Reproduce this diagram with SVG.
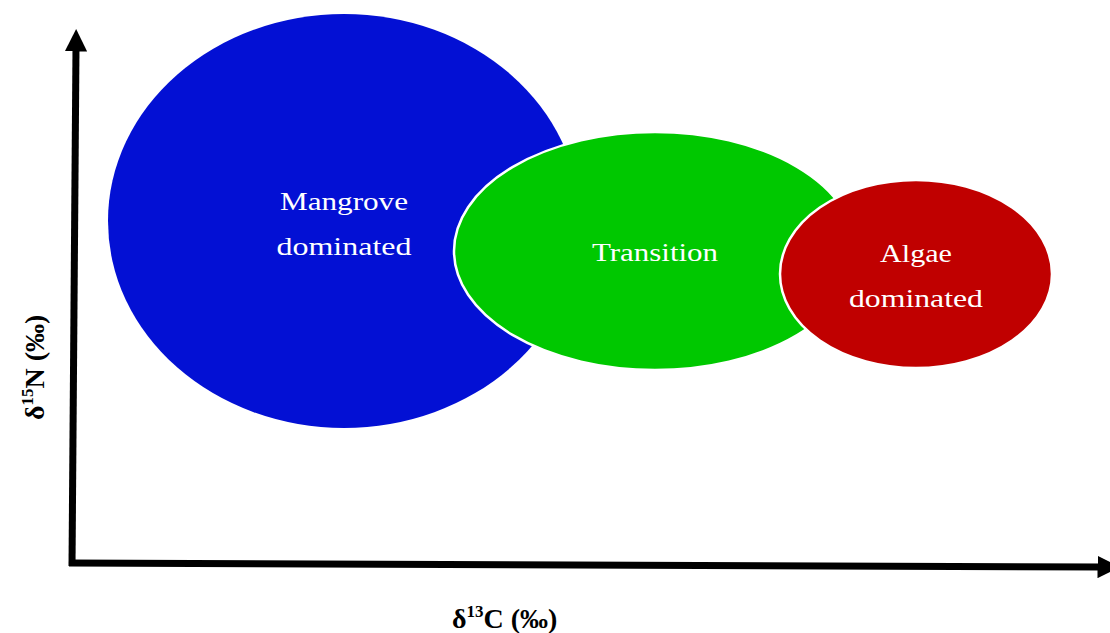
<svg xmlns="http://www.w3.org/2000/svg" width="1110" height="633" viewBox="0 0 1110 633">
<style>
.lbl{font-family:"Liberation Serif","DejaVu Serif",serif;font-size:26px;fill:#ffffff;text-anchor:middle}
.ax{font-family:"Liberation Serif","DejaVu Serif",serif;font-size:28px;font-weight:bold;fill:#000}
.sup{font-size:17px}
</style>
<defs>
<marker id="ah" viewBox="0 0 10 10" refX="2" refY="5" markerWidth="3.2" markerHeight="3.2" orient="auto" markerUnits="strokeWidth">
<path d="M0,0 L10,5 L0,10 Z" fill="#000"/>
</marker>
</defs>
<rect width="1110" height="633" fill="#fff"/>
<g id="mangrove">
<ellipse cx="344" cy="221" rx="236" ry="207" fill="#0310D4"/>
<text class="lbl" x="344" y="210" textLength="128" lengthAdjust="spacingAndGlyphs">Mangrove</text>
<text class="lbl" x="344" y="255" textLength="135" lengthAdjust="spacingAndGlyphs">dominated</text>
</g>
<g id="transition">
<ellipse cx="655" cy="251" rx="201" ry="119" fill="#00C800" stroke="#fff" stroke-width="2.5"/>
<text class="lbl" x="655" y="261" textLength="126" lengthAdjust="spacingAndGlyphs">Transition</text>
</g>
<g id="algae">
<ellipse cx="916" cy="274" rx="136" ry="94" fill="#C00000" stroke="#fff" stroke-width="2.5"/>
<text class="lbl" x="916" y="262" textLength="72" lengthAdjust="spacingAndGlyphs">Algae</text>
<text class="lbl" x="916" y="307" textLength="134" lengthAdjust="spacingAndGlyphs">dominated</text>
</g>
<g id="connectors" stroke="#000" stroke-width="7" fill="none">
<line x1="72" y1="566" x2="76" y2="47" marker-end="url(#ah)"/>
<line x1="69" y1="563" x2="1102" y2="567" marker-end="url(#ah)"/>
</g>
<g id="axis-labels">
<text class="ax" x="452" y="628">δ<tspan class="sup" dy="-11">13</tspan><tspan dy="11">C (‰)</tspan></text>
<text class="ax" transform="translate(44,420) rotate(-90)">δ<tspan class="sup" dy="-11">15</tspan><tspan dy="11">N (‰)</tspan></text>
</g>
</svg>
